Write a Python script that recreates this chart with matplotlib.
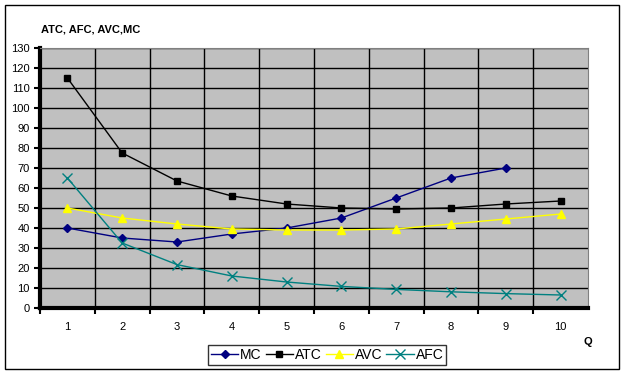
import matplotlib.pyplot as plt
from matplotlib.patches import Rectangle

plt.rcParams['font.family'] = ['Liberation Sans', 'DejaVu Sans']

# cost data
q = [1, 2, 3, 4, 5, 6, 7, 8, 9, 10]
mc = [40, 35, 33, 37, 40, 45, 55, 65, 70]
atc = [115, 77.5, 63.5, 56, 52, 50, 49.5, 50, 52, 53.5]
avc = [50, 45, 42, 39.5, 39, 39, 39.5, 42, 44.5, 47]
afc = [65, 32.5, 21.7, 16, 13, 10.8, 9.3, 8.1, 7.2, 6.5]

fig = plt.figure(figsize=(6.26, 3.75), dpi=100)
ax = fig.add_axes([40 / 626, 1 - 308 / 375, 548 / 626, 260 / 375])
ax.set_facecolor('#c0c0c0')

ax.plot(q[:len(mc)], mc, color='#000080', marker='D', markersize=4, lw=1, label='MC')
ax.plot(q, atc, color='black', marker='s', markersize=5, lw=1, label='ATC')
ax.plot(q, avc, color='#ffff00', marker='^', markersize=6, lw=1, label='AVC')
ax.plot(q, afc, color='#008080', marker='x', markersize=7, mew=1, lw=1, label='AFC')

ax.set_xlim(0.5, 10.5)
ax.set_ylim(0, 130)
ax.set_yticks(range(0, 131, 10))
ax.set_xticks(q)
ax.set_xticks([x + 0.5 for x in range(0, 10)], minor=True)
ax.grid(True, which='minor', axis='x', color='black', lw=1)
ax.grid(True, which='major', axis='y', color='black', lw=1)
ax.tick_params(axis='x', which='major', length=0, labelsize=8, pad=10)
ax.tick_params(axis='x', which='minor', length=4, width=1.5, direction='out')
ax.tick_params(axis='y', length=4, width=1.5, direction='out', labelsize=8)

for side in ['left', 'bottom']:
    ax.spines[side].set_linewidth(3)
for side in ['top', 'right']:
    ax.spines[side].set_color('#808080')

fig.text(41 / 626, 1 - 30 / 375, 'ATC, AFC, AVC,MC', fontsize=8, fontweight='bold', va='center')
fig.text(588 / 626, 1 - 342 / 375, 'Q', fontsize=8, fontweight='bold', ha='center', va='center')

leg = fig.legend(loc='center', bbox_to_anchor=(327 / 626, 1 - 355 / 375), ncol=4,
                 fontsize=10, frameon=True, fancybox=False, edgecolor='black',
                 handlelength=2.0, handletextpad=0.1, columnspacing=0.3,
                 borderpad=0.2, borderaxespad=0)
leg.get_frame().set_linewidth(1)

fig.patches.append(Rectangle((5 / 626, 1 - 369 / 375), 614 / 626, 364 / 375,
                             transform=fig.transFigure, fill=False,
                             edgecolor='black', lw=1))

fig.savefig('out.png', dpi=100)
